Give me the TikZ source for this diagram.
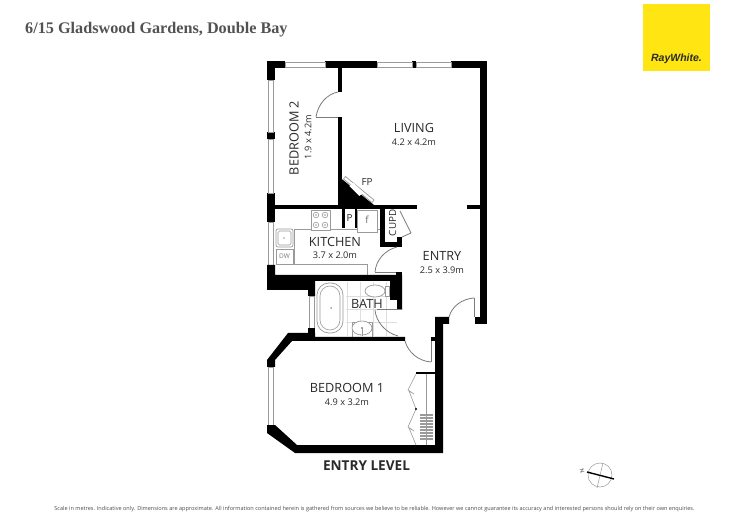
\documentclass[tikz,border=0pt]{standalone}
\usepackage{fontspec}
\setmainfont{Open Sans}
\newfontfamily\titlefont{Liberation Serif}
\newfontfamily\logofont{Liberation Sans}
\definecolor{fix}{HTML}{9A9A9A}
\definecolor{tile}{HTML}{DEDEDE}
\definecolor{rwy}{HTML}{FFE512}
\definecolor{ink}{HTML}{2A2A2A}
\tikzset{
  wall/.style={fill=black,draw=none},
  fixture/.style={draw=fix,line width=0.7pt,fill=white},
  thin fix/.style={draw=fix,line width=0.6pt},
  doorline/.style={draw=fix!80!black,line width=0.8pt},
  tileline/.style={draw=tile,line width=0.5pt},
  winframe/.style={draw=fix,line width=0.6pt,fill=white},
  roomname/.style={text=ink,font=\fontsize{12.7}{14}\selectfont,inner sep=0pt},
  roomsize/.style={text=ink,font=\fontsize{9.2}{10}\selectfont,inner sep=0pt},
  smalllabel/.style={text=ink,font=\fontsize{9.8}{11}\selectfont,inner sep=0pt},
}
\begin{document}
\begin{tikzpicture}[x=1pt,y=-1pt]
\useasboundingbox (0,0) rectangle (750,529);
\fill[white] (0,0) rectangle (750,529);

% tiles in the bathroom
\foreach \x in {347,360,373,386}{\draw[tileline] (\x,282)--(\x,336);}
\foreach \y in {296,309,322}{\draw[tileline] (346,\y)--(397,\y);}

% outer walls, top
\fill[wall] (267,61) rectangle (285,68);
\fill[wall] (325,61) rectangle (377,68);
\fill[wall] (412,61) rectangle (416,68);
\fill[wall] (451,61) rectangle (487,68);
% windows, top
\draw[winframe] (285,62) rectangle (325,67.5);
\draw[winframe] (377,62) rectangle (412,67.5);
\draw[winframe] (416,62) rectangle (451,67.5);
% left wall, upper
\fill[wall] (267,61) rectangle (275,80);
\fill[wall] (267,132) rectangle (275,139);
\fill[wall] (267,193) rectangle (275,222);
\draw[winframe] (268.5,80) rectangle (273.5,132);
\draw[winframe] (268.5,139) rectangle (273.5,193);
% right wall
\fill[wall] (480,61) rectangle (487,324);
\fill[wall] (475,317) rectangle (487,324);
\fill[wall] (467,205) rectangle (480,209);
% divider bedroom 2 / living
\fill[wall] (338,61) rectangle (342,92);
\fill[wall] (338,117) rectangle (342,205);
% fireplace
\fill[wall] (338,176) -- (374,205) -- (338,205) -- cycle;
\draw[fixture] (345.5,176.5) -- (374,200) -- (372,202.5) -- (343.5,179) -- cycle;
\fill[white] (349.3,186) -- (353.3,182.7) -- (363.3,192.7) -- (359.3,196) -- cycle;
% wall between bedroom 2 / kitchen
\fill[wall] (275,205) rectangle (417,209);
% pantry
\fill[wall] (342,209) rectangle (345,228);
\fill[wall] (355,209) rectangle (357,228);
% cupboard
\fill[wall] (380,209) rectangle (385,247);
\fill[wall] (380,242) rectangle (402,247);
\fill[wall] (397,237) rectangle (402,247);
% kitchen fittings
\draw[fixture] (311,210) rectangle (330,230);
\foreach \x in {316,325}{\foreach \y in {215,225}{
  \draw[thin fix] (\x,\y) circle (2.8); \fill[fix] (\x,\y) circle (0.8);}}
\draw[thin fix] (294,229) -- (311,229) (330,229) -- (380,229);
\draw[thin fix] (294,229) -- (294,264.5) -- (367,264.5) -- (367,275);
\draw[fixture] (357,210) rectangle (377,232);
\draw[fixture,rounded corners=2pt] (276,229) rectangle (293,247);
\draw[thin fix,rounded corners=1.5pt] (278,231) rectangle (291,245);
\fill[fix] (284,238) circle (0.8);
\draw[thin fix] (276,249) rectangle (293,264);
% kitchen window and walls
\draw[winframe] (268.5,222) rectangle (273.5,265);
\fill[wall] (267,265) -- (275,265) -- (275,275) -- (402,275) -- (402,310) -- (397,310) -- (397,300) -- (390,300) -- (390,281) -- (315,281) -- (315,296) -- (308,296) -- (308,290) -- (267,290) -- cycle;
\draw[doorline] (375,272.5) -- (399,272.5);
\fill[wall] (396,272) rectangle (402,276);
% bath fittings
\draw[fixture,rounded corners=12pt] (317,283) rectangle (343,333);
\draw[thin fix,rounded corners=10pt] (320,286) rectangle (340,330);
\fill[fix] (331,308) circle (1);
\draw[fixture] (375,291) ellipse (10 and 6);
\draw[fixture] (385,286) rectangle (389,296);
\draw[thin fix] (352,322) rectangle (372,337);
\draw[fixture] (362,328) ellipse (10 and 7);
\fill[fix!50!black] (362,328) circle (0.8);
\draw[thin fix] (362,328) -- (362,336);
\draw[doorline] (377,309.5) -- (402,309.5);
% bath window
\draw[winframe] (309,296) rectangle (314,328);
\fill[wall] (308,328) rectangle (315,338);
% bedroom 1 walls
\fill[wall] (288,333) -- (315,333) -- (315,337) -- (405,337) -- (405,341) -- (292,341) -- (275,360) -- (275,367) -- (267,367) -- (267,360) -- cycle;
\draw[winframe] (268.5,367) rectangle (273.5,425);
\fill[wall] (267,425) -- (275,425) -- (297,445) -- (435,445) -- (435,317) -- (449,317) -- (449,324) -- (443,324) -- (443,453) -- (295,453) -- (267,433) -- cycle;
\fill[wall] (431,337) rectangle (435,341);
\fill[wall] (416,372) rectangle (435,374);
% wardrobe
\draw[thin fix] (426.5,374) -- (426.5,445);
\draw[thin fix] (416,374) -- (408,390) -- (414,394) -- (409,391) -- (416,409) -- (408,427) -- (414,431) -- (409,428) -- (416,445);
\fill[black] (416,409) circle (1.1);
\foreach \y in {415,418,...,439}{\draw[fix,line width=1.4pt] (420,\y) -- (433,\y);}
% doors
\draw[doorline] (316,117) -- (338,117);
\draw[doorline] (316,117) .. controls (318,104) and (327,94) .. (338,92);
\draw[doorline] (397,247) .. controls (385,250) and (376,260) .. (375,272);
\draw[doorline] (400,211) -- (411,233) -- (402,237);
\draw[doorline] (375,310) .. controls (376,322) and (386,333) .. (398,336);
\draw[doorline] (405,341) .. controls (408,352) and (418,361) .. (431,362);
\draw[doorline] (431,341) -- (431,362);
\draw[doorline] (449,317) .. controls (452,306) and (462,299) .. (474,298);
\draw[doorline] (474,298) -- (474,317);

% labels
\node[roomname] (living) at (414,128) {LIVING};
\node[roomsize] (livingsize) at (414,142) {4.2 x 4.2m};
\node[roomname,rotate=90] (bed2) at (294,138) {BEDROOM 2};
\node[roomsize,rotate=90] (bed2size) at (308,137) {1.9 x 4.2m};
\node[smalllabel] (fp) at (367,182.5) {FP};
\node[smalllabel] (pantry) at (349.5,218) {P};
\node[smalllabel,text=fix!70!black] (fridge) at (367,220) {f};
\node[smalllabel,rotate=90] (cupd) at (392.5,223) {CUPD};
\node[roomname] (kitchen) at (335,241.5) {KITCHEN};
\node[roomsize] (kitchensize) at (335,255) {3.7 x 2.0m};
\node[smalllabel,text=fix!80!black,font=\fontsize{6.5}{8}\selectfont] (dw) at (284.5,256) {DW};
\node[roomname] (entry) at (442,256) {ENTRY};
\node[roomsize] (entrysize) at (442,270) {2.5 x 3.9m};
\node[roomname] (bath) at (367,304) {BATH};
\node[roomname] (bed1) at (347,388) {BEDROOM 1};
\node[roomsize] (bed1size) at (347,402) {4.9 x 3.2m};
\node[text=ink,inner sep=0pt,font=\fontsize{13.6}{15}\selectfont\bfseries] (level) at (366.5,466) {ENTRY LEVEL};

% title
\node[anchor=west,inner sep=0pt,text=black!68,font=\titlefont\bfseries\fontsize{16.2}{18}\selectfont] (title) at (25,29.5) {6/15 Gladswood Gardens, Double Bay};

% logo
\node[fill=rwy,minimum width=67pt,minimum height=67pt,inner sep=0pt] (logo) at (676.5,37.5) {};
\node[text=ink,inner sep=0pt,font=\logofont\bfseries\itshape\fontsize{10.5}{12}\selectfont] (raywhite) at (676.5,59) {RayWhite.};

% compass
\coordinate (cc) at (600,475);
\coordinate (ca) at (587,472);
\coordinate (cb) at (614,479);
\coordinate (cd) at (603,463);
\coordinate (ce) at (597,488);
\draw[fix,line width=0.5pt] (cc) circle (12);
\draw[fix,line width=0.5pt] (cd) -- (ce);
\draw[black,line width=1.4pt] (ca) -- (cb);
\node[rotate=-75,inner sep=0pt,text=ink,font=\fontsize{5.5}{6}\selectfont] (north) at (582,471) {N};

% footnote
\node[inner sep=0pt,text=black!70,font=\fontsize{5.55}{6.5}\selectfont] (note) at (374.5,509) {Scale in metres. Indicative only. Dimensions are approximate. All information contained herein is gathered from sources we believe to be reliable. However we cannot guarantee its accuracy and interested persons should rely on their own enquiries.};
\end{tikzpicture}
\end{document}
